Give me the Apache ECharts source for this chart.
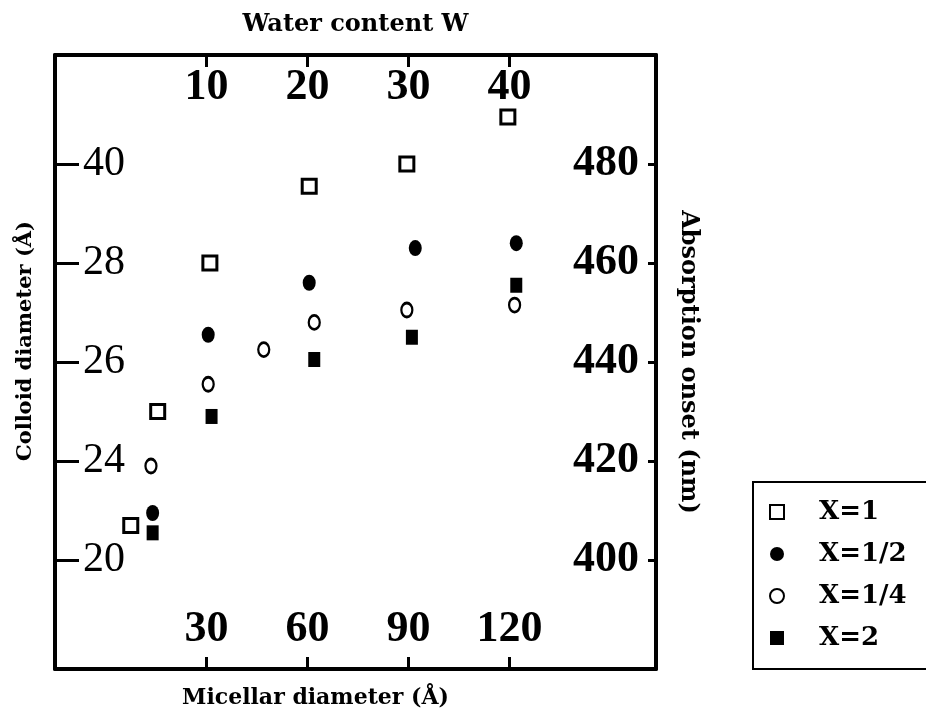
<!DOCTYPE html>
<html>
<head>
<meta charset="utf-8">
<script src="https://cdn.jsdelivr.net/npm/echarts@6/dist/echarts.min.js"></script>
<style>
  html, body { margin: 0; padding: 0; background: #fff; }
  #chart { width: 926px; height: 720px; }
</style>
</head>
<body>
<div id="chart"></div>
<script>
// Tick values and labels
const micellarTicks = [30, 60, 90, 120];          // bottom axis, micellar diameter (Å)
const waterTicks = [10, 20, 30, 40];              // top axis, water content W
const onsetTicks = [400, 420, 440, 460, 480];     // right axis, absorption onset (nm)
const colloidLabels = ['20', '24', '26', '28', '40']; // left axis labels at the same heights

// Series: x = micellar diameter (Å), y = absorption onset (nm)
const seriesNames = ['X=1', 'X=1/2', 'X=1/4', 'X=2'];
const x1Micellar = [7.5, 15.5, 31, 60.5, 89.5, 119.5];
const x1Onset = [407, 430, 460, 475.5, 480, 489.5];
const xHalfMicellar = [14, 30.5, 60.5, 92, 122];
const xHalfOnset = [409.5, 445.5, 456, 463, 464];
const xQuarterMicellar = [13.5, 30.5, 47, 62, 89.5, 121.5];
const xQuarterOnset = [419, 435.5, 442.5, 448, 450.5, 451.5];
const x2Micellar = [14, 31.5, 62, 91, 122];
const x2Onset = [405.5, 429, 440.5, 445, 455.5];

const pairs = (xs, ys) => xs.map((x, i) => [x, ys[i]]);

const serifDigits = 'Liberation Serif';
const nameFont = 'DejaVu Serif';
const ink = '#000';

const chart = echarts.init(document.getElementById('chart'), null, { renderer: 'canvas' });

const axisLine = { show: true, onZero: false, lineStyle: { color: ink, width: 4 } };

chart.setOption({
  backgroundColor: '#fff',
  animation: false,
  grid: { left: 55, right: 270, top: 55, bottom: 51, containLabel: false },
  legend: {
    orient: 'vertical',
    left: 753,
    top: 482,
    padding: [17, 80, 18, 16],
    itemGap: 16,
    itemWidth: 14,
    itemHeight: 14,
    borderColor: ink,
    borderWidth: 2,
    data: seriesNames,
    textStyle: {
      fontFamily: nameFont, fontWeight: 'bold', fontSize: 26, color: ink,
      padding: [0, 0, 0, 30]
    }
  },
  xAxis: [
    {
      type: 'value', position: 'bottom', min: -15, max: 163.5,
      name: 'Micellar diameter (Å)', nameLocation: 'middle', nameGap: 18,
      nameTextStyle: { fontFamily: nameFont, fontWeight: 'bold', fontSize: 22, color: ink, padding: [0, 80, 0, 0] },
      axisLine: axisLine,
      splitLine: { show: false },
      axisTick: { show: true, inside: true, length: 12, customValues: micellarTicks, lineStyle: { color: ink, width: 3 } },
      axisLabel: { show: true, inside: true, margin: 17, customValues: micellarTicks,
        fontFamily: serifDigits, fontWeight: 'bold', fontSize: 44, color: ink }
    },
    {
      type: 'value', position: 'top', min: -5, max: 54.5,
      name: 'Water content W', nameLocation: 'middle', nameGap: 18,
      nameTextStyle: { fontFamily: nameFont, fontWeight: 'bold', fontSize: 24, color: ink },
      axisLine: axisLine,
      splitLine: { show: false },
      axisTick: { show: true, inside: true, length: 12, customValues: waterTicks, lineStyle: { color: ink, width: 3 } },
      axisLabel: { show: true, inside: true, margin: 11, customValues: waterTicks,
        fontFamily: serifDigits, fontWeight: 'bold', fontSize: 44, color: ink }
    }
  ],
  yAxis: [
    {
      type: 'value', position: 'left', min: 378, max: 502,
      name: 'Colloid diameter (Å)', nameLocation: 'middle', nameGap: 19,
      nameTextStyle: { fontFamily: nameFont, fontWeight: 'bold', fontSize: 21, color: ink, padding: [0, 0, 0, 42] },
      axisLine: axisLine,
      splitLine: { show: false },
      axisTick: { show: true, inside: true, length: 24, customValues: onsetTicks, lineStyle: { color: ink, width: 3 } },
      axisLabel: { show: true, inside: true, margin: 28, customValues: onsetTicks,
        formatter: (v) => colloidLabels[onsetTicks.indexOf(v)],
        fontFamily: serifDigits, fontSize: 42, color: ink }
    },
    {
      type: 'value', position: 'right', min: 378, max: 502,
      name: 'Absorption onset (nm)', nameLocation: 'middle', nameGap: 20, nameRotate: -90,
      nameTextStyle: { fontFamily: nameFont, fontWeight: 'bold', fontSize: 24, color: ink },
      axisLine: axisLine,
      splitLine: { show: false },
      axisTick: { show: true, inside: true, length: 8, customValues: onsetTicks, lineStyle: { color: ink, width: 3 } },
      axisLabel: { show: true, inside: true, margin: 17, customValues: onsetTicks,
        fontFamily: serifDigits, fontWeight: 'bold', fontSize: 44, color: ink }
    }
  ],
  series: [
    {
      name: seriesNames[0], type: 'scatter', xAxisIndex: 0, yAxisIndex: 1,
      symbol: 'rect', symbolSize: [14, 14],
      itemStyle: { color: '#fff', borderColor: ink, borderWidth: 3, opacity: 1 },
      data: pairs(x1Micellar, x1Onset)
    },
    {
      name: seriesNames[1], type: 'scatter', xAxisIndex: 0, yAxisIndex: 1,
      symbol: 'circle', symbolSize: [13, 16],
      itemStyle: { color: ink, opacity: 1 },
      data: pairs(xHalfMicellar, xHalfOnset)
    },
    {
      name: seriesNames[2], type: 'scatter', xAxisIndex: 0, yAxisIndex: 1,
      symbol: 'circle', symbolSize: [11, 14],
      itemStyle: { color: '#fff', borderColor: ink, borderWidth: 2.5, opacity: 1 },
      data: pairs(xQuarterMicellar, xQuarterOnset)
    },
    {
      name: seriesNames[3], type: 'scatter', xAxisIndex: 0, yAxisIndex: 1,
      symbol: 'rect', symbolSize: [12, 15],
      itemStyle: { color: ink, opacity: 1 },
      data: pairs(x2Micellar, x2Onset)
    }
  ]
});
</script>
</body>
</html>
